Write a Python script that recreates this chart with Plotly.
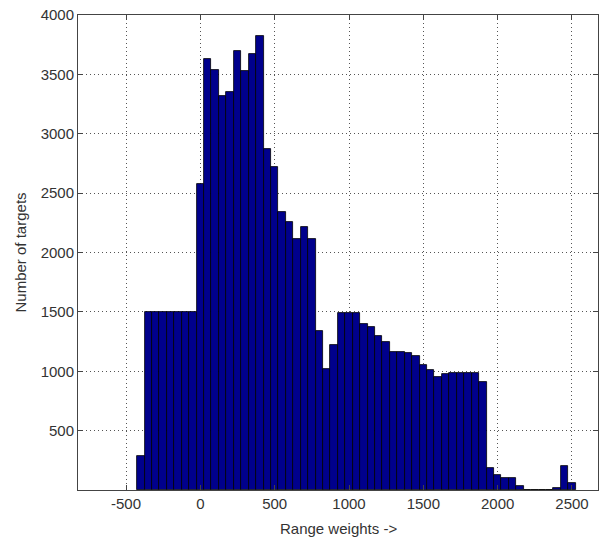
import plotly.graph_objects as go

# Bin centers (width 50) and counts
bin_centers = [-400 + 50 * i for i in range(59)]
counts = [
    290, 1500, 1500, 1500, 1500, 1500, 1500, 1500,
    2580, 3630, 3540, 3320, 3350, 3700, 3530, 3670, 3825, 2870, 2720,
    2345, 2255, 2115, 2215, 2115, 1335, 1020, 1220, 1490, 1490, 1490,
    1400, 1370, 1300, 1250, 1160, 1160, 1150, 1130, 1055, 1012,
    955, 975, 985, 985, 985, 985, 913, 188, 124, 104, 104, 34,
    0, 0, 0, 0, 14, 202, 62,
]
x_ticks = [-500, 0, 500, 1000, 1500, 2000, 2500]
y_ticks = [500, 1000, 1500, 2000, 2500, 3000, 3500, 4000]
x_title = "Range weights ->"
y_title = "Number of targets"

fig = go.Figure(go.Bar(
    x=bin_centers, y=counts, width=50,
    marker=dict(color="#00008C", line=dict(color="#000000", width=0.8)),
))

font = dict(family="Liberation Sans, Arial, sans-serif", size=15, color="#333333")
grid = dict(showgrid=True, gridcolor="#555555", griddash="1px,3px", gridwidth=1)
common = dict(ticks="inside", ticklen=5, tickcolor="#444", showline=True, linecolor="#444",
              linewidth=1, mirror="ticks", zeroline=False, automargin=False,
              tickfont=font, **grid)

fig.update_layout(
    width=606, height=544,
    margin=dict(l=78, r=8, t=15, b=54),
    paper_bgcolor="white", plot_bgcolor="white",
    font=font, showlegend=False, bargap=0,
    xaxis=dict(range=[-823, 2675], tickvals=x_ticks, ticktext=[str(v) for v in x_ticks], **common),
    yaxis=dict(range=[0, 4000], tickvals=y_ticks, ticktext=[str(v) for v in y_ticks], **common),
    annotations=[
        dict(text=x_title, xref="paper", yref="paper", x=0.5, y=0, yshift=-38,
             xanchor="center", yanchor="middle", showarrow=False, font=font),
        dict(text=y_title, xref="paper", yref="paper", x=0, y=0.5, xshift=-58,
             xanchor="center", yanchor="middle", textangle=-90, showarrow=False, font=font),
    ],
)

fig.write_html("out.html", config={"displayModeBar": False},
               post_script="document.body.style.margin='0';")
